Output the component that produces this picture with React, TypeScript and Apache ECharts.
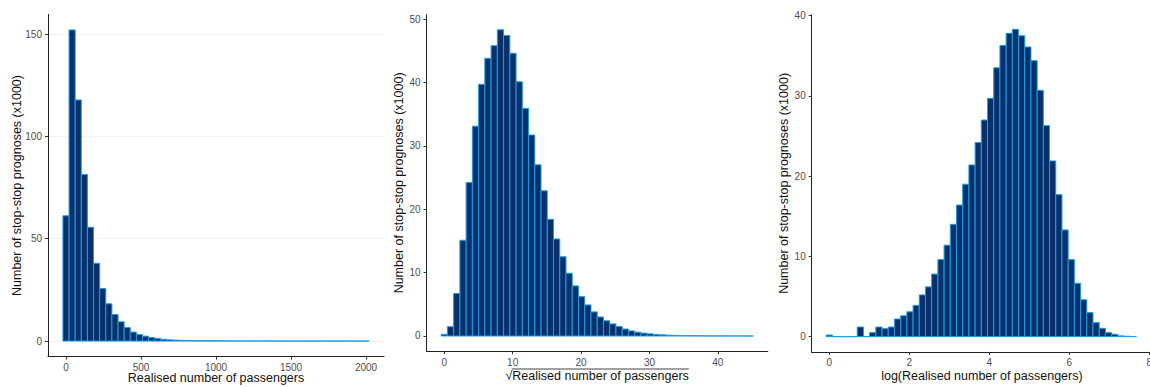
import React, { useEffect, useRef } from "react";
import * as echarts from "echarts";

// Histogram counts (x1000) for 50 bins in each panel
const RAW_COUNTS = [
  61.2, 152.0, 117.8, 81.4, 55.6, 38.0, 25.7, 18.2, 13.0, 9.4,
  6.6, 4.4, 3.2, 2.4, 1.7, 1.2, 0.85, 0.6, 0.45, 0.35,
  0.28, 0.22, 0.18, 0.15, 0.12, 0.1, 0.08, 0.07, 0.06, 0.05,
  0.04, 0.035, 0.03, 0.03, 0.025, 0.02, 0.02, 0.015, 0.015, 0.01,
  0.01, 0.01, 0.01, 0.008, 0.008, 0.006, 0.005, 0.005, 0.004, 0.004,
];
const SQRT_COUNTS = [
  0.26, 1.47, 6.7, 15.1, 24.2, 33.1, 39.7, 43.8, 45.8, 48.3,
  47.4, 44.6, 40.1, 35.9, 31.7, 27.0, 22.9, 18.4, 15.3, 12.5,
  9.9, 7.9, 6.2, 4.9, 3.8, 3.0, 2.4, 1.9, 1.5, 1.1,
  0.8, 0.6, 0.45, 0.33, 0.25, 0.18, 0.13, 0.1, 0.07, 0.05,
  0.04, 0.03, 0.02, 0.015, 0.01, 0.008, 0.006, 0.004, 0.003, 0.002,
];
const LOG_COUNTS = [
  0.2, 0, 0, 0, 0, 1.2, 0, 0.5, 1.2, 1.0,
  1.2, 2.2, 2.6, 3.1, 3.9, 5.2, 6.2, 7.8, 9.6, 11.4,
  14.0, 16.4, 19.0, 21.4, 24.2, 27.0, 29.7, 33.5, 36.3, 37.8,
  38.3, 37.5, 36.1, 34.4, 30.7, 26.3, 21.9, 17.7, 13.3, 9.6,
  6.65, 4.6, 3.0, 1.75, 1.04, 0.5, 0.3, 0.1, 0.05, 0.02,
];

// Centre of the first and last bin on each transformed scale
const RAW_RANGE = [0, 2000];
const SQRT_RANGE = [0, Math.sqrt(2000)];
const LOG_RANGE = [0, Math.log(2000)];

const RAW_X_TICKS = [0, 500, 1000, 1500, 2000];
const RAW_Y_TICKS = [0, 50, 100, 150];
const SQRT_X_TICKS = [0, 10, 20, 30, 40];
const SQRT_Y_TICKS = [0, 10, 20, 30, 40, 50];
const LOG_X_TICKS = [0, 2, 4, 6, 8];
const LOG_Y_TICKS = [0, 10, 20, 30, 40];

const Y_TITLE = "Number of stop-stop prognoses (x1000)";
const X_TITLE_RAW = "Realised number of passengers";
const X_TITLE_SQRT = "\u221ARealised number of passengers";
const X_TITLE_LOG = "log(Realised number of passengers)";

const FONT = "'Liberation Sans', Arial, Helvetica, sans-serif";
const BAR_FILL = "#08306b";
const BAR_EDGE = "#1c9de6";
const AXIS_COLOR = "#222222";
const TICK_LABEL_COLOR = "#4d4d4d";
const TITLE_COLOR = "#111111";
const TITLE_SIZE = 12.5;

function binCenters(range: number[], n: number): number[] {
  const step = (range[1] - range[0]) / (n - 1);
  return Array.from({ length: n }, (_, i) => range[0] + i * step);
}

function histSeries(counts: number[], range: number[], idx: number) {
  const centers = binCenters(range, counts.length);
  const half = (range[1] - range[0]) / (counts.length - 1) / 2;
  return {
    type: "custom",
    xAxisIndex: idx,
    yAxisIndex: idx,
    data: counts.map((c, i) => [centers[i], c]),
    renderItem: (_params: any, api: any) => {
      const x = api.value(0);
      const y = api.value(1);
      const p0 = api.coord([x - half, y]);
      const p1 = api.coord([x + half, 0]);
      return {
        type: "rect",
        shape: { x: p0[0], y: p0[1], width: p1[0] - p0[0], height: p1[1] - p0[1] },
        style: { fill: BAR_FILL, stroke: BAR_EDGE, lineWidth: 1 },
      };
    },
  };
}

const plain = (v: number) => String(v);

function xAxis(idx: number, min: number, max: number, ticks: number[], name: string, gap: number) {
  return {
    type: "value",
    gridIndex: idx,
    min,
    max,
    name,
    nameLocation: "middle",
    nameGap: gap,
    nameMoveOverlap: false,
    nameTextStyle: { fontSize: TITLE_SIZE, color: TITLE_COLOR, fontFamily: FONT },
    axisLine: { show: true, onZero: false, lineStyle: { color: AXIS_COLOR, width: 1 } },
    axisTick: { show: true, length: 3, customValues: ticks, lineStyle: { color: "#333" } },
    axisLabel: {
      customValues: ticks,
      formatter: plain,
      fontSize: 10,
      color: TICK_LABEL_COLOR,
      margin: 6,
      fontFamily: FONT,
    },
    splitLine: { show: false },
  };
}

function yAxis(idx: number, min: number, max: number, ticks: number[], gap: number, grid: boolean) {
  return {
    type: "value",
    gridIndex: idx,
    min,
    max,
    name: Y_TITLE,
    nameLocation: "middle",
    nameGap: gap,
    nameMoveOverlap: false,
    nameTextStyle: { fontSize: TITLE_SIZE, color: TITLE_COLOR, fontFamily: FONT },
    axisLine: { show: true, onZero: false, lineStyle: { color: AXIS_COLOR, width: 1 } },
    axisTick: { show: true, length: 3, customValues: ticks, lineStyle: { color: "#333" } },
    axisLabel: {
      customValues: ticks,
      formatter: plain,
      fontSize: 10,
      color: TICK_LABEL_COLOR,
      margin: 6,
      fontFamily: FONT,
    },
    splitLine: { show: grid, lineStyle: { color: "#f1f1f1", width: 1 } },
  };
}

export default function App() {
  const ref = useRef<HTMLDivElement>(null);

  useEffect(() => {
    document.body.style.margin = "0";
    if (!ref.current) return;
    const chart = echarts.init(ref.current, null, { renderer: "svg" });

    const grids = [
      { left: 48, top: 14.4, width: 336, height: 342.2, outerBoundsMode: "none", containLabel: false },
      { left: 426.5, top: 14.6, width: 341.3, height: 336.6, outerBoundsMode: "none", containLabel: false },
      { left: 811.7, top: 14.9, width: 340.4, height: 337, outerBoundsMode: "none", containLabel: false },
    ];

    // Overline of the square-root sign in the middle panel's axis title
    const ctx = document.createElement("canvas").getContext("2d");
    let totalW = 183;
    let rootW = 7;
    if (ctx) {
      ctx.font = `${TITLE_SIZE}px ${FONT}`;
      totalW = ctx.measureText(X_TITLE_SQRT).width;
      rootW = ctx.measureText("\u221A").width;
    }
    const cx = grids[1].left + grids[1].width / 2;
    const lineY = grids[1].top + grids[1].height + 17.8;

    chart.setOption({
      animation: false,
      textStyle: { fontFamily: FONT },
      grid: grids,
      xAxis: [
        xAxis(0, -120, 2120, RAW_X_TICKS, X_TITLE_RAW, 15),
        xAxis(1, -2.6, 47.3, SQRT_X_TICKS, X_TITLE_SQRT, 18),
        xAxis(2, -0.44, 8.07, LOG_X_TICKS, X_TITLE_LOG, 17.5),
      ],
      yAxis: [
        yAxis(0, -7.6, 159.6, RAW_Y_TICKS, 25, true),
        yAxis(1, -2.4, 50.7, SQRT_Y_TICKS, 21, false),
        yAxis(2, -1.9, 40.1, LOG_Y_TICKS, 21, false),
      ],
      series: [
        histSeries(RAW_COUNTS, RAW_RANGE, 0),
        histSeries(SQRT_COUNTS, SQRT_RANGE, 1),
        histSeries(LOG_COUNTS, LOG_RANGE, 2),
      ],
      graphic: [
        {
          type: "line",
          shape: {
            x1: cx - totalW / 2 + rootW - 0.5,
            y1: lineY,
            x2: cx + totalW / 2,
            y2: lineY,
          },
          style: { stroke: TITLE_COLOR, lineWidth: 0.8 },
        },
      ],
    });

    return () => chart.dispose();
  }, []);

  return <div ref={ref} style={{ width: 1150, height: 387 }} />;
}
